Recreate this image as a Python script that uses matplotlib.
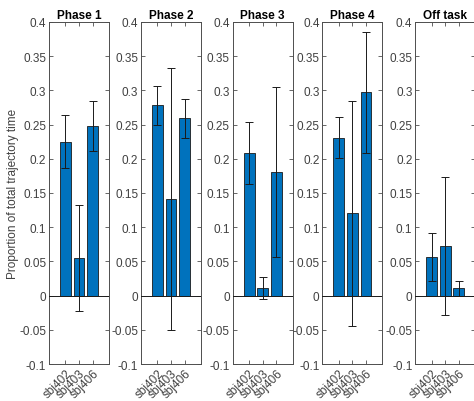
import matplotlib
matplotlib.use("Agg")
import matplotlib.pyplot as plt
from matplotlib.ticker import FuncFormatter
import numpy as np

subjects = ["sbj402", "sbj403", "sbj406"]
phases = ["Phase 1", "Phase 2", "Phase 3", "Phase 4", "Off task"]
means = {
    "Phase 1": [0.225, 0.055, 0.248],
    "Phase 2": [0.278, 0.141, 0.259],
    "Phase 3": [0.208, 0.011, 0.181],
    "Phase 4": [0.231, 0.120, 0.297],
    "Off task": [0.056, 0.073, 0.011],
}
errors = {
    "Phase 1": [0.039, 0.077, 0.037],
    "Phase 2": [0.028, 0.192, 0.029],
    "Phase 3": [0.045, 0.016, 0.124],
    "Phase 4": [0.030, 0.164, 0.088],
    "Off task": [0.035, 0.101, 0.011],
}
ylabel = "Proportion of total trajectory time"
yticks = [-0.1, -0.05, 0, 0.05, 0.1, 0.15, 0.2, 0.25, 0.3, 0.35, 0.4]

plt.rcParams['font.family'] = ['Liberation Sans', 'DejaVu Sans']
fig = plt.figure(figsize=(4.74, 4.02), dpi=100)

lefts = [0.1034, 0.2975, 0.491, 0.680, 0.876]
width = 0.1266
bottom = 0.092
height = 0.851
axc = '#4d4d4d'
txtc = '#404040'

for i, ph in enumerate(phases):
    ax = fig.add_axes([lefts[i], bottom, width, height])
    x = np.arange(1, len(subjects) + 1)
    ax.bar(x, means[ph], width=0.8, color='#0072BD', edgecolor='#1a1a1a', linewidth=0.6, zorder=2)
    ax.errorbar(x, means[ph], yerr=errors[ph], fmt='none', ecolor='#1a1a1a', elinewidth=0.7,
                capsize=3, capthick=0.7, zorder=3)
    ax.axhline(0, color='#1a1a1a', linewidth=0.7, zorder=4)
    ax.set_xlim(-0.2, 4.2)
    ax.set_ylim(-0.1, 0.4)
    ax.set_yticks(yticks)
    ax.yaxis.set_major_formatter(FuncFormatter(lambda v, p: ('%g' % round(v, 2))))
    ax.set_xticks(x)
    ax.set_xticklabels(subjects, rotation=45, ha='right', rotation_mode='anchor', fontsize=8.5, color=txtc)
    ax.tick_params(axis='both', direction='in', length=3, width=0.6, color=axc,
                   top=True, right=True, labelsize=8.5, labelcolor=txtc, pad=2)
    for s in ax.spines.values():
        s.set_color(axc)
        s.set_linewidth(0.7)
    ax.set_title(ph, fontsize=8.5, fontweight='bold', pad=3, color='#000000')
    if i == 0:
        ax.set_ylabel(ylabel, fontsize=8.5, color=txtc, labelpad=0)

fig.savefig("out.png", dpi=100)
